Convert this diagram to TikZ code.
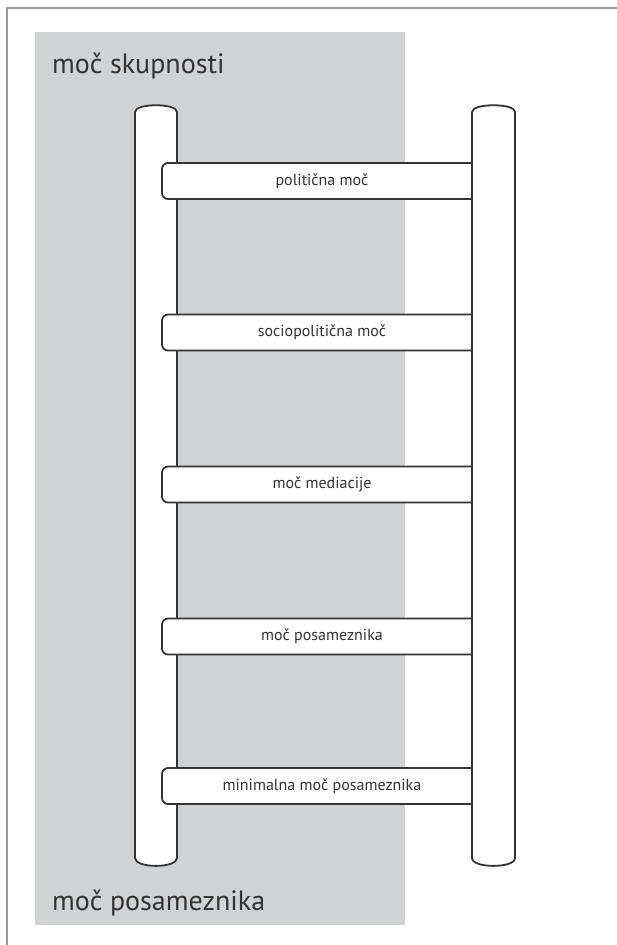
\documentclass[tikz,border=0pt]{standalone}
\usepackage{fontspec}
\setmainfont{PT Sans}
\usetikzlibrary{positioning}
\definecolor{panelgray}{RGB}{209,210,212}
\definecolor{inkgray}{RGB}{51,51,51}

\begin{document}
\begin{tikzpicture}[x=1pt,y=-1pt,
    rung/.style={draw=inkgray,line width=1.8pt,fill=white,rounded corners=6pt,
      minimum width=320pt,minimum height=36pt,inner sep=0pt,text=inkgray,
      font=\fontsize{16}{18}\selectfont},
    pole/.style={draw=inkgray,line width=1.8pt,fill=white},
    side/.style={text=inkgray,font=\fontsize{28}{31}\selectfont,anchor=base west,inner sep=0pt}]

    \useasboundingbox (0,0) rectangle (617,945);
    \fill[white] (0,0) rectangle (617,945);
    \fill[panelgray] (35,32) rectangle (405,925);
    \draw[gray!80,line width=1.2pt] (7,945) -- (7,8) -- (617,8);

    \node[side] (skupnost) at (52,73) {moč skupnosti};
    \node[side] (posameznik) at (52,910) {moč posameznika};

    % left pole, behind the rungs
    \draw[pole] (135,112) .. controls (135,103) and (177,103) .. (177,112) -- (177,858)
      .. controls (177,868.5) and (135,868.5) .. (135,858) -- cycle;

    \node[rung] (politicna) at (322,181) {politična moč};
    \node[rung] (sociopoliticna) at (322,332.5) {sociopolitična moč};
    \node[rung] (mediacija) at (322,484.5) {moč mediacije};
    \node[rung] (posamezna) at (322,636.5) {moč posameznika};
    \node[rung] (minimalna) at (322,786) {minimalna moč posameznika};

    % right pole covers the rung ends
    \draw[pole] (472,112) .. controls (472,103) and (515,103) .. (515,112) -- (515,858)
      .. controls (515,868.5) and (472,868.5) .. (472,858) -- cycle;

\end{tikzpicture}
\end{document}
